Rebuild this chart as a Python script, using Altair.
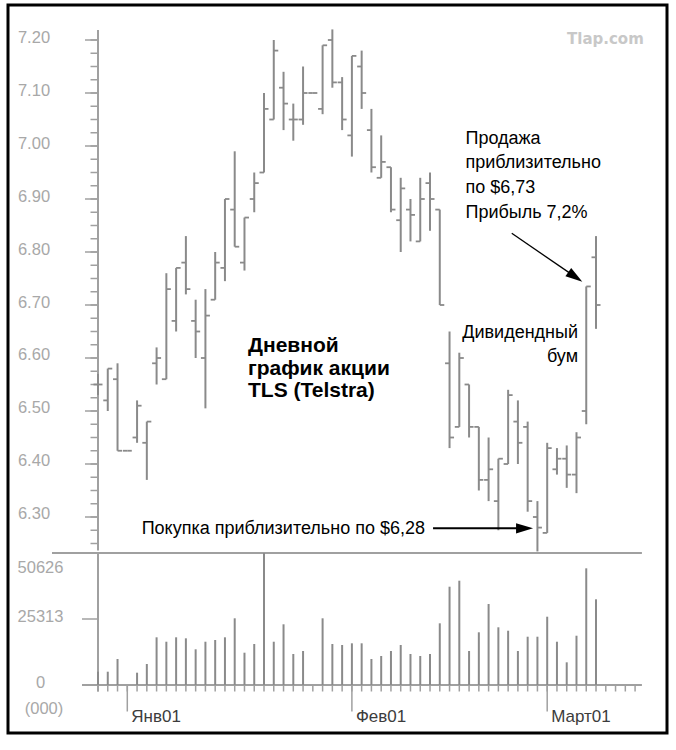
import altair as alt
import pandas as pd

# ---------------- data ----------------
day_index = list(range(52))
open_p = [6.55, 6.52, 6.56, 6.425, 6.45, 6.44, 6.59, 6.56, 6.67, 6.78,
          6.67, 6.60, 6.71, 6.77, 6.88, 6.78, 6.90, 6.95, 7.05, 7.11,
          7.05, 7.05, 7.10, 7.07, 7.20, 7.12, 7.02, 7.15, 7.03, 6.94,
          6.96, 6.86, 6.88, 6.82, 6.93, 6.88, 6.59, 6.47, 6.55, 6.47,
          6.37, 6.33, 6.40, 6.48, 6.47, 6.30, 6.27, 6.39, 6.41, 6.38,
          6.50, 6.79]
high_p = [6.57, 6.58, 6.59, 6.425, 6.52, 6.48, 6.62, 6.76, 6.77, 6.83,
          6.71, 6.73, 6.80, 6.90, 6.99, 6.865, 6.95, 7.10, 7.20, 7.14,
          7.08, 7.15, 7.10, 7.19, 7.22, 7.13, 7.17, 7.18, 7.07, 7.02,
          6.96, 6.94, 6.90, 6.94, 6.95, 6.88, 6.65, 6.61, 6.55, 6.47,
          6.45, 6.41, 6.54, 6.52, 6.48, 6.33, 6.44, 6.43, 6.435, 6.46,
          6.735, 6.83]
low_p = [6.53, 6.50, 6.425, 6.425, 6.44, 6.37, 6.55, 6.56, 6.65, 6.72,
         6.60, 6.505, 6.71, 6.745, 6.81, 6.765, 6.875, 6.95, 7.05, 7.03,
         7.01, 7.04, 7.10, 7.06, 7.11, 7.03, 6.98, 7.07, 6.95, 6.94,
         6.875, 6.80, 6.82, 6.82, 6.84, 6.70, 6.43, 6.47, 6.45, 6.35,
         6.33, 6.275, 6.40, 6.40, 6.31, 6.235, 6.27, 6.38, 6.355, 6.345,
         6.475, 6.655]
close_p = [6.55, 6.58, 6.425, 6.425, 6.51, 6.48, 6.60, 6.73, 6.77, 6.73,
           6.65, 6.68, 6.78, 6.90, 6.81, 6.865, 6.93, 7.07, 7.18, 7.08,
           7.05, 7.10, 7.10, 7.19, 7.12, 7.05, 7.17, 7.10, 6.96, 6.97,
           6.88, 6.92, 6.87, 6.90, 6.90, 6.70, 6.45, 6.60, 6.47, 6.37,
           6.39, 6.41, 6.53, 6.44, 6.33, 6.28, 6.43, 6.41, 6.38, 6.45,
           6.735, 6.70]
volume = [5100, 5100, 9970, None, 4720, 8050, 18290, 16600, 18290, 17900,
          13690, 16600, 17260, 18290, 25580, 12390, 15720, 50626, 16600, 23280,
          11890, 13040, None, 25580, 15720, 15340, 15990, 15990, 9970, 11120,
          13040, 15340, 11890, 11120, 11890, 23660, 37700, 40000, 13040, 20210,
          31060, 22130, 20820, 13040, 18520, 18520, 26190, 16600, 8700, 18900,
          44750, 32870]
all_days = list(range(56))
month_index = [3, 26, 46]
month_labels = ["Янв01", "Фев01", "Март01"]
price_tick_values = [7.20, 7.10, 7.00, 6.90, 6.80, 6.70, 6.60, 6.50, 6.40, 6.30]
price_tick_labels = ["7.20", "7.10", "7.00", "6.90", "6.80", "6.70", "6.60", "6.50", "6.40", "6.30"]
price_minor_values = [round(6.25 + 0.025 * k, 3) for k in range(39)]
volume_tick_values = [50626, 25313, 0]
volume_tick_labels = ["50626", "25313", "0"]

# ---------------- styling ----------------
FONT = "Liberation Sans"
BAR = "#8a8a8a"
AXC = "#a0a0a0"
LBL = "#a8a8a8"
TXT = "#3c3c3c"

XS = alt.Scale(domain=[-9.2166, 58.269], nice=False, zero=False)
PS = alt.Scale(domain=[5.89245, 7.26604], nice=False, zero=False)
VS = alt.Scale(domain=[-18409.5, 260801], nice=False, zero=False)

pdf = pd.DataFrame({"i": day_index, "o": open_p, "h": high_p, "l": low_p, "c": close_p})
vdf = pd.DataFrame({"i": day_index, "v": volume}).dropna()
ddf = pd.DataFrame({"i": all_days})
mdf = pd.DataFrame({"i": month_index, "t": month_labels})
ptdf = pd.DataFrame({"v": price_tick_values, "t": price_tick_labels})
pmdf = pd.DataFrame({"v": price_minor_values})
one = pd.DataFrame({"k": [0]})

x_i = alt.X("i:Q", scale=XS, axis=None)
x0 = alt.X(datum=0, scale=XS, axis=None)
x_end = alt.X2(datum=55.7)


def py(field):
    return alt.Y(field, scale=PS, axis=None)


def pyd(v):
    return alt.Y(datum=v, scale=PS, axis=None)


def vyd(v):
    return alt.Y(datum=v, scale=VS, axis=None)


layers = []

# price axis line + ticks + labels
layers.append(alt.Chart(one).mark_rule(color=AXC, strokeWidth=2).encode(
    x=x0, y=pyd(7.219), y2=alt.Y2(datum=6.237)))
layers.append(alt.Chart(one).mark_rule(color=AXC, strokeWidth=2, y2Offset=6.5).encode(
    x=x0, y=vyd(50626), y2=alt.Y2(datum=0)))
layers.append(alt.Chart(ptdf).mark_rule(color=AXC, strokeWidth=1.5, xOffset=-13).encode(
    x=x0, x2=alt.X2(datum=0), y=py("v:Q")))
layers.append(alt.Chart(pmdf).mark_rule(color=AXC, strokeWidth=1.5, xOffset=-7.5).encode(
    x=x0, x2=alt.X2(datum=0), y=py("v:Q")))
layers.append(alt.Chart(ptdf).mark_text(align="center", baseline="middle", dx=-64, dy=-2.5,
                                        font=FONT, fontSize=16.5, color=LBL).encode(
    x=x0, y=py("v:Q"), text="t:N"))

# volume axis lines
layers.append(alt.Chart(one).mark_rule(color=AXC, strokeWidth=2, xOffset=-46).encode(
    x=x0, x2=x_end, y=vyd(50626)))
layers.append(alt.Chart(one).mark_rule(color=AXC, strokeWidth=2, xOffset=-16).encode(
    x=x0, x2=x_end, y=vyd(0)))
layers.append(alt.Chart(one).mark_rule(color=AXC, strokeWidth=1.5, xOffset=-16).encode(
    x=x0, x2=alt.X2(datum=0), y=vyd(25313)))
layers.append(alt.Chart(ddf).mark_rule(color=AXC, strokeWidth=1.5, y2Offset=6.5).encode(
    x=x_i, y=vyd(0), y2=alt.Y2(datum=0)))
layers.append(alt.Chart(mdf).mark_rule(color=AXC, strokeWidth=1.5, y2Offset=26.5).encode(
    x=x_i, y=vyd(0), y2=alt.Y2(datum=0)))
layers.append(alt.Chart(mdf).mark_text(align="left", baseline="middle", dx=4, dy=32.5,
                                       font=FONT, fontSize=17, color=TXT).encode(
    x=x_i, y=vyd(0), text="t:N"))

# volume labels
vl = pd.DataFrame({"v": volume_tick_values, "t": volume_tick_labels})
layers.append(alt.Chart(vl.iloc[[0]]).mark_text(align="center", baseline="middle", dx=-57.5, dy=14.5,
                                                font=FONT, fontSize=16.5, color=LBL).encode(
    x=x0, y=alt.Y("v:Q", scale=VS, axis=None), text="t:N"))
layers.append(alt.Chart(vl.iloc[[1, 2]]).mark_text(align="center", baseline="middle", dx=-57.5, dy=-2,
                                                   font=FONT, fontSize=16.5, color=LBL).encode(
    x=x0, y=alt.Y("v:Q", scale=VS, axis=None), text="t:N"))
layers.append(alt.Chart(one).mark_text(align="center", baseline="middle", dx=-54, dy=24,
                                       font=FONT, fontSize=16.5, color=LBL, text="(000)").encode(
    x=x0, y=vyd(0)))

# volume bars
layers.append(alt.Chart(vdf).mark_rule(color=BAR, strokeWidth=2).encode(
    x=x_i, y=alt.Y("v:Q", scale=VS, axis=None), y2=alt.Y2(datum=0)))

# OHLC bars
layers.append(alt.Chart(pdf).mark_rule(color=BAR, strokeWidth=2).encode(
    x=x_i, y=py("h:Q"), y2="l:Q"))
layers.append(alt.Chart(pdf).mark_rule(color=BAR, strokeWidth=1.8, xOffset=-4.5).encode(
    x=x_i, x2="i:Q", y=py("o:Q")))
layers.append(alt.Chart(pdf).mark_rule(color=BAR, strokeWidth=1.8, x2Offset=4.5).encode(
    x=x_i, x2="i:Q", y=py("c:Q")))

# annotations
layers.append(alt.Chart(one).mark_text(
    text=["Дневной", "график акции", "TLS (Telstra)"], align="left", baseline="alphabetic",
    font=FONT, fontSize=21, fontWeight="bold", lineHeight=22.5, color="black").encode(
    x=alt.X(datum=15.36, scale=XS, axis=None), y=pyd(6.6113)))
layers.append(alt.Chart(one).mark_text(
    text=["Продажа", "приблизительно", "по $6,73", "Прибыль 7,2%"], align="left", baseline="alphabetic",
    font=FONT, fontSize=18, lineHeight=24.7, color="black").encode(
    x=alt.X(datum=37.63, scale=XS, axis=None), y=pyd(7.0047)))
layers.append(alt.Chart(one).mark_text(
    text=["Дивидендный", "бум"], align="right", baseline="alphabetic",
    font=FONT, fontSize=18, lineHeight=23.5, color="black").encode(
    x=alt.X(datum=49.16, scale=XS, axis=None), y=pyd(6.6368)))
layers.append(alt.Chart(one).mark_text(
    text="Покупка приблизительно по $6,28", align="left", baseline="alphabetic",
    font=FONT, fontSize=18, color="black").encode(
    x=alt.X(datum=4.47, scale=XS, axis=None), y=pyd(6.2679)))
layers.append(alt.Chart(one).mark_text(
    text="Tlap.com", align="left", baseline="alphabetic",
    font="DejaVu Sans", fontSize=15, fontWeight="bold", color="#c8c8c8").encode(
    x=alt.X(datum=48.03, scale=XS, axis=None), y=pyd(7.1921)))

# arrows
HEAD = "M-1,-0.6L1,0L-1,0.6Z"
layers.append(alt.Chart(one).mark_rule(color="black", strokeWidth=2).encode(
    x=alt.X(datum=34.31, scale=XS, axis=None), x2=alt.X2(datum=43.68), y=pyd(6.2787)))
layers.append(alt.Chart(one).mark_point(shape=HEAD, filled=True, size=289, color="black",
                                        opacity=1, strokeWidth=0).encode(
    x=alt.X(datum=43.68, scale=XS, axis=None), y=pyd(6.2787)))
layers.append(alt.Chart(one).mark_rule(color="black", strokeWidth=1.3).encode(
    x=alt.X(datum=42.37, scale=XS, axis=None), x2=alt.X2(datum=48.88),
    y=pyd(6.8353), y2=alt.Y2(datum=6.753)))
layers.append(alt.Chart(one).mark_point(shape=HEAD, filled=True, size=289, color="black",
                                        opacity=1, strokeWidth=0, angle=34.4).encode(
    x=alt.X(datum=48.88, scale=XS, axis=None), y=pyd(6.753)))

chart = alt.layer(*layers).resolve_scale(y="independent").properties(
    width=659, height=728,
    padding={"left": 8, "top": 5, "right": 9, "bottom": 17},
    autosize=alt.AutoSizeParams(type="none"),
    background="white",
).configure_view(stroke="black", strokeWidth=3)

chart.save("out.html", embed_options={"renderer": "svg", "actions": False})
